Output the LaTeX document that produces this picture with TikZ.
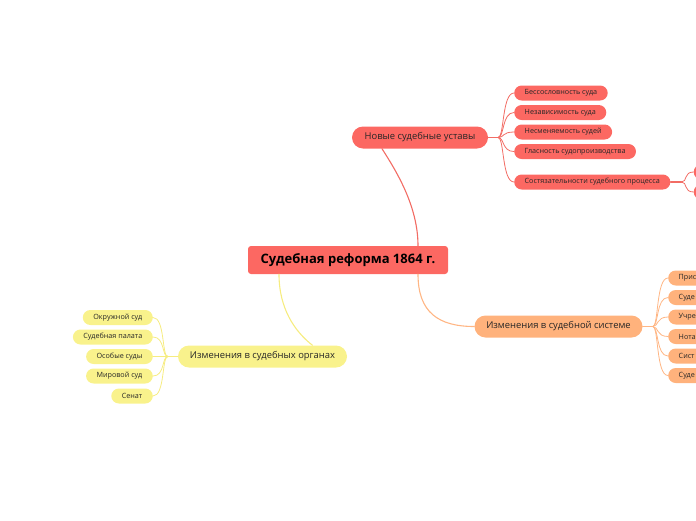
\documentclass[tikz,border=0pt]{standalone}
\usepackage{fontspec}
\setmainfont{Open Sans}
\usetikzlibrary{calc}

\definecolor{redfill}{RGB}{252,104,98}
\definecolor{redline}{RGB}{242,108,100}
\definecolor{orfill}{RGB}{255,178,124}
\definecolor{orline}{RGB}{255,182,132}
\definecolor{yefill}{RGB}{249,242,140}
\definecolor{yeline}{RGB}{246,236,128}

\begin{document}
\begin{tikzpicture}[
	x=1pt,
	y=-1pt,
	line cap=round,
	line join=round,
	every node/.style={text=black!85,inner sep=0pt},
	rootbox/.style={fill=redfill,rounded corners=3pt,minimum width=200pt,
		minimum height=28pt,text=black,font=\bfseries\fontsize{13}{15}\selectfont},
	branch/.style={rounded corners=11pt,minimum height=22pt,
		font=\fontsize{9.4}{11}\selectfont},
	leaf/.style={rounded corners=7.5pt,minimum height=15pt,inner xsep=10.5pt,
		font=\fontsize{7.2}{8}\selectfont},
	thickline/.style={line width=1.1pt},
	thinline/.style={line width=0.8pt}
	]
	\useasboundingbox (0,0) rectangle (696,520);
	\clip (0,0) rectangle (696,520);
	
	% root and branches
	\node[rootbox] (root) at (348,260) {Судебная реформа 1864 г.};
	\node[branch,fill=redfill,minimum width=136pt] (ust) at (420,137.5)
	{Новые судебные уставы};
	\node[branch,fill=orfill,minimum width=168pt] (syst) at (558.5,326.5)
	{Изменения в судебной системе};
	\node[branch,fill=yefill,minimum width=169pt] (org) at (262.5,356.5)
	{Изменения в судебных органах};
	
	% red leaves
	\node[leaf,fill=redfill,anchor=west] (u1) at (514,93) {Бессословность суда};
	\node[leaf,fill=redfill,anchor=west] (u2) at (514,112.5) {Независимость суда};
	\node[leaf,fill=redfill,anchor=west] (u3) at (514,132) {Несменяемость судей};
	\node[leaf,fill=redfill,anchor=west] (u4) at (514,151.5) {Гласность судопроизводства};
	\node[leaf,fill=redfill,anchor=west] (u5) at (514,182)
	{Состязательности судебного процесса};
	\node[leaf,fill=redfill,anchor=west,minimum width=40pt] (u6) at (693.5,172) {};
	\node[leaf,fill=redfill,anchor=west,minimum width=40pt] (u7) at (693.5,192) {};
	
	% orange leaves
	\node[leaf,fill=orfill,anchor=west,text width=50pt,align=left] (s1) at (668,278) {Прис};
	\node[leaf,fill=orfill,anchor=west,text width=50pt,align=left] (s2) at (668,297.5) {Суде};
	\node[leaf,fill=orfill,anchor=west,text width=50pt,align=left] (s3) at (668,317) {Учре};
	\node[leaf,fill=orfill,anchor=west,text width=50pt,align=left] (s4) at (668,336.5) {Нота};
	\node[leaf,fill=orfill,anchor=west,text width=50pt,align=left] (s5) at (668,356) {Сист};
	\node[leaf,fill=orfill,anchor=west,text width=50pt,align=left] (s6) at (668,375.5) {Суде};
	
	% yellow leaves
	\node[leaf,fill=yefill,anchor=east] (o1) at (153,317.5) {Окружной суд};
	\node[leaf,fill=yefill,anchor=east] (o2) at (153,337) {Судебная палата};
	\node[leaf,fill=yefill,anchor=east] (o3) at (153,356.5) {Особые суды};
	\node[leaf,fill=yefill,anchor=east] (o4) at (153,376) {Мировой суд};
	\node[leaf,fill=yefill,anchor=east] (o5) at (153,396) {Сенат};
	
	% root connectors
	\draw[thickline,redline] ($(root.north)+(70,0)$)
	.. controls +(0,-40) and +(14,22) .. ($(ust.south)+(-38,0)$);
	\draw[thickline,orline] ($(root.south)+(70,0)$)
	.. controls +(0,38) and +(-36,0) .. (syst.west);
	\draw[thickline,yeline] ($(root.south)+(-69,0)$)
	.. controls +(0,34) and +(-18,-14) .. ($(org.north)+(50,0)$);
	
	% hubs
	\coordinate (hubU) at ($(ust.east)+(10,0)$);
	\coordinate (hubC) at ($(u5.east)+(11,0)$);
	\coordinate (hubS) at ($(syst.east)+(10,0)$);
	\coordinate (hubO) at ($(org.west)+(-10,0)$);
	\draw[thickline,redline] (ust.east) -- (hubU);
	\draw[thickline,redline] (u5.east) -- (hubC);
	\draw[thickline,orline] (syst.east) -- (hubS);
	\draw[thickline,yeline] (org.west) -- (hubO);
	
	\foreach \n in {u1,u2,u3,u4,u5}
	\draw[thinline,redline] (hubU) .. controls +(6,0) and +(-12,0) .. (\n.west);
	\foreach \n in {u6,u7}
	\draw[thinline,redline] (hubC) .. controls +(6,0) and +(-10,0) .. (\n.west);
	\foreach \n in {s1,s2,s3,s4,s5,s6}
	\draw[thinline,orline] (hubS) .. controls +(6,0) and +(-12,0) .. (\n.west);
	\foreach \n in {o1,o2,o3,o4,o5}
	\draw[thinline,yeline] (hubO) .. controls +(-6,0) and +(12,0) .. (\n.east);
\end{tikzpicture}
\end{document}
